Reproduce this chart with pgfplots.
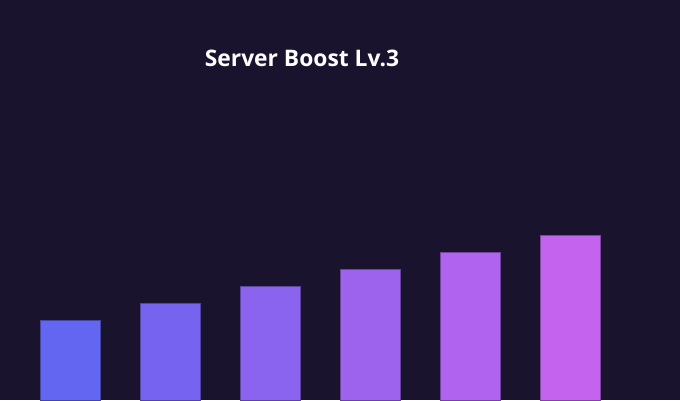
\documentclass[border=0pt]{standalone}
\usepackage{pgfplots}
\pgfplotsset{compat=1.18}
\usepackage{fontspec}
\newfontfamily\titlefont{Open Sans}
\definecolor{bg}{RGB}{25,19,45}
\definecolor{c1}{RGB}{99,102,241}
\definecolor{c2}{RGB}{118,100,240}
\definecolor{c3}{RGB}{138,100,238}
\definecolor{c4}{RGB}{157,99,236}
\definecolor{c5}{RGB}{176,99,238}
\definecolor{c6}{RGB}{196,100,238}
\begin{document}
\begin{tikzpicture}[x=1pt,y=1pt]
\fill[bg] (0,0) rectangle (680,400);
\begin{axis}[
  at={(0,0)}, anchor=south west,
  scale only axis, width=680pt, height=400pt,
  hide axis, clip=true,
  xmin=-0.7, xmax=6.1, ymin=4, ymax=404,
  ybar, bar width=0.6,
]
\addplot[bar shift=0, fill=c1, draw=c1!60!bg, line width=0.8pt] coordinates {(0,84)};
\addplot[bar shift=0, fill=c2, draw=c2!60!bg, line width=0.8pt] coordinates {(1,101)};
\addplot[bar shift=0, fill=c3, draw=c3!60!bg, line width=0.8pt] coordinates {(2,117.5)};
\addplot[bar shift=0, fill=c4, draw=c4!60!bg, line width=0.8pt] coordinates {(3,135)};
\addplot[bar shift=0, fill=c5, draw=c5!60!bg, line width=0.8pt] coordinates {(4,152)};
\addplot[bar shift=0, fill=c6, draw=c6!60!bg, line width=0.8pt] coordinates {(5,169)};
\end{axis}
\node[text=white, font={\titlefont\bfseries\fontsize{22.8}{26}\selectfont}] at (302,342) {Server Boost Lv.3};
\end{tikzpicture}
\end{document}
